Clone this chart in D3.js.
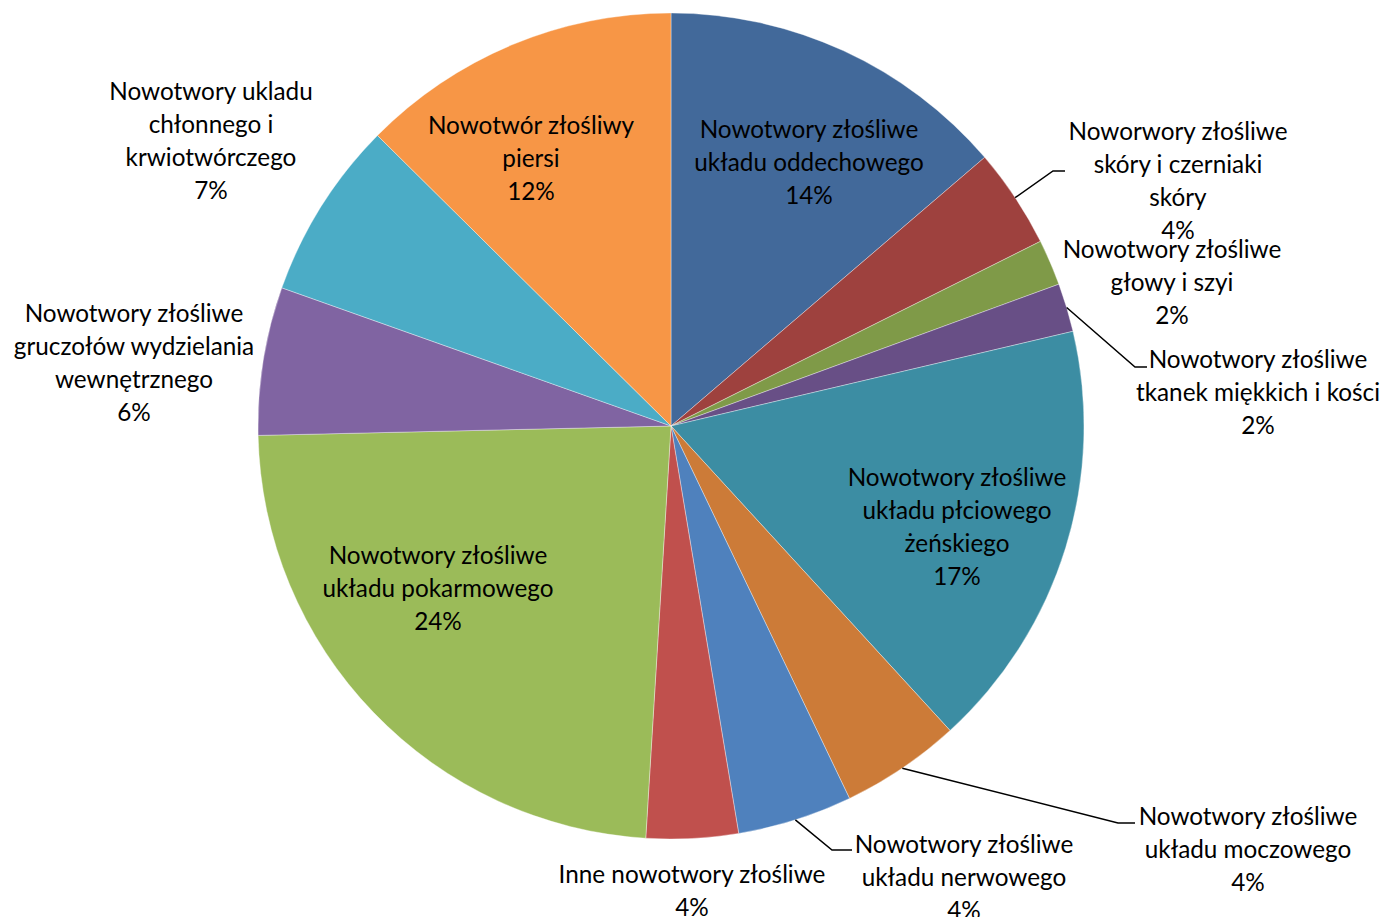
<!DOCTYPE html>
<html><head><meta charset="utf-8">
<script src="https://cdn.jsdelivr.net/npm/d3@7"></script>
<style>body{margin:0;background:#fff}svg{display:block}</style>
</head><body>
<script>
const categories = [
  "Nowotwory złośliwe|układu oddechowego",
  "Noworwory złośliwe|skóry i czerniaki|skóry",
  "Nowotwory złośliwe|głowy i szyi",
  "Nowotwory złośliwe|tkanek miękkich i kości",
  "Nowotwory złośliwe|układu płciowego|żeńskiego",
  "Nowotwory złośliwe|układu moczowego",
  "Nowotwory złośliwe|układu nerwowego",
  "Inne nowotwory złośliwe",
  "Nowotwory złośliwe|układu pokarmowego",
  "Nowotwory złośliwe|gruczołów wydzielania|wewnętrznego",
  "Nowotwory ukladu|chłonnego i|krwiotwórczego",
  "Nowotwór złośliwy|piersi"
];
const values = [13.75, 3.9, 1.8, 1.9, 16.9, 4.7, 4.5, 3.6, 23.7, 5.8, 7.0, 12.6];
const percentLabels = ["14%","4%","2%","2%","17%","4%","4%","4%","24%","6%","7%","12%"];
const colors = ["#42699A","#9E413E","#7F9A48","#684F86","#3C8DA3","#CC7B38","#4F81BD","#C0504D","#9BBB59","#8064A2","#4BACC6","#F79646"];

// layout (label centre x, first line y) and leader line elbows
const labelLayout = [
  {x:809, y:129},
  {x:1178, y:131, leader:[[1053,171],[1065,171]]},
  {x:1172, y:249},
  {x:1258, y:359, leader:[[1135,367],[1147,367]]},
  {x:957, y:477},
  {x:1248, y:816, leader:[[1118,823],[1135,823]]},
  {x:964, y:844, leader:[[832,850],[852,850]]},
  {x:692, y:874},
  {x:438, y:555},
  {x:134, y:313},
  {x:211, y:91},
  {x:531, y:125}
];

const W = 1385, H = 917, cx = 671, cy = 426, R = 413;
const svg = d3.select("body").append("svg").attr("width", W).attr("height", H);
const data = categories.map((c, i) => ({name: c, value: values[i], pct: percentLabels[i], color: colors[i], lay: labelLayout[i]}));
const pie = d3.pie().value(d => d.value).sort(null);
const arc = d3.arc().innerRadius(0).outerRadius(R);
const arcs = pie(data);
const g = svg.append("g").attr("transform", `translate(${cx},${cy})`);
g.selectAll("path").data(arcs).enter().append("path")
  .attr("d", arc).attr("fill", d => d.data.color)
  .attr("stroke", "#ffffff").attr("stroke-width", 0.6).attr("stroke-opacity", 0.6);

// leader lines
arcs.forEach(a => {
  const l = a.data.lay.leader;
  if (!l) return;
  const mid = (a.startAngle + a.endAngle) / 2;
  const sx = cx + Math.sin(mid) * R, sy = cy - Math.cos(mid) * R;
  const pts = [[sx, sy], ...l];
  svg.append("path").attr("d", d3.line()(pts)).attr("fill", "none").attr("stroke", "#000").attr("stroke-width", 1.5);
});

// labels
const lh = 33;
data.forEach(d => {
  const lines = d.name.split("|").concat([d.pct]);
  const t = svg.append("text").attr("text-anchor", "middle")
    .attr("font-family", "Lato, 'Open Sans', sans-serif").attr("font-size", 24.3).attr("fill", "#000");
  lines.forEach((ln, j) => {
    t.append("tspan").attr("x", d.lay.x).attr("y", d.lay.y + j * lh).attr("dy", "0.35em").text(ln);
  });
});
</script>
</body></html>
